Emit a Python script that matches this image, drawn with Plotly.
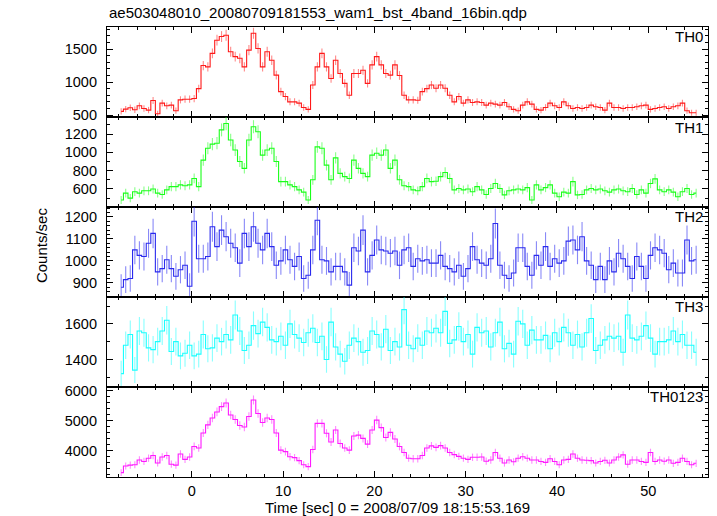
import numpy as np
import plotly.graph_objects as go
from plotly.subplots import make_subplots

TITLE = "ae503048010_20080709181553_wam1_bst_4band_16bin.qdp"
X_TITLE = "Time [sec] 0 = 2008/07/09 18:15:53.169"
Y_TITLE = "Counts/sec"
BANDS = ["TH0", "TH1", "TH2", "TH3", "TH0123"]
COLORS = ["#ff1a1a", "#1aff1a", "#2a2aee", "#1affff", "#ff1aff"]
ERR_COLORS = ["rgba(255,40,40,0.55)", "rgba(40,255,40,0.55)", "rgba(40,40,240,0.55)",
              "rgba(40,255,255,0.55)", "rgba(255,40,255,0.55)"]

T_FIRST = -7.75   # first bin centre [s]
T_STEP = 0.5      # spacing of read values [s]
EXPOSURE = 0.25   # bin exposure used for Poisson errors [s]

TH0 = [555, 590, 610, 580, 640, 600, 575, 720, 520, 680, 640, 650, 565, 730, 740, 740,
       750, 900, 1250, 1230, 1435, 1635, 1690, 1710, 1460, 1385, 1360, 1230, 1485, 1740, 1510, 1230,
       1460, 1330, 1105, 855, 780, 700, 700, 680, 615, 585, 955, 1230, 1435, 1230, 1055, 1330,
       1130, 980, 800, 1130, 1130, 1180, 980, 1260, 1385, 1260, 1130, 1105, 1260, 1100, 800, 730,
       730, 725, 855, 900, 955, 905, 955, 905, 800, 700, 780, 680, 730, 690, 700, 690,
       650, 680, 665, 650, 690, 625, 585, 565, 650, 700, 665, 585, 575, 615, 680, 640,
       615, 700, 640, 600, 615, 600, 615, 650, 625, 615, 575, 680, 615, 615, 600, 615,
       615, 625, 640, 650, 585, 600, 615, 625, 600, 625, 640, 680, 565, 535, 535]

TH1 = [480, 555, 500, 570, 555, 580, 580, 600, 555, 540, 590, 625, 625, 645, 635, 645,
       715, 625, 915, 1045, 1090, 1100, 1245, 1315, 1135, 1025, 900, 825, 1135, 1280, 1225, 970,
       1025, 1045, 900, 680, 680, 645, 625, 590, 565, 480, 700, 1060, 1045, 860, 700, 940,
       770, 735, 715, 915, 825, 770, 735, 970, 990, 970, 1025, 825, 915, 700, 635, 625,
       590, 580, 625, 715, 680, 685, 735, 780, 715, 590, 605, 590, 600, 570, 625, 590,
       540, 605, 660, 605, 535, 580, 590, 600, 590, 615, 480, 645, 590, 615, 645, 555,
       515, 565, 555, 680, 535, 540, 590, 605, 590, 600, 580, 565, 590, 600, 580, 570,
       605, 540, 590, 555, 660, 710, 590, 570, 590, 565, 515, 570, 605, 540, 555]

TH2 = [880, 915, 920, 1050, 1025, 1020, 1080, 1125, 950, 965, 1005, 965, 930, 960, 980, 885,
       1180, 1010, 1010, 1020, 1155, 1065, 1140, 1110, 1080, 1060, 990, 1125, 1065, 1155, 1080, 1050,
       1125, 1065, 980, 1000, 1050, 1005, 975, 1020, 920, 935, 1050, 1185, 1005, 1000, 950, 975,
       975, 950, 890, 1060, 1045, 1140, 950, 1025, 1095, 1050, 1045, 1035, 1045, 980, 1050, 1060,
       975, 1010, 1000, 1005, 990, 990, 1025, 975, 965, 950, 980, 930, 965, 1065, 1005, 990,
       980, 1010, 1170, 980, 935, 920, 945, 1060, 1060, 975, 935, 1025, 980, 1065, 975, 1010,
       990, 1000, 1090, 1095, 1050, 1110, 1000, 980, 915, 975, 915, 1000, 950, 1035, 1010, 975,
       920, 1020, 975, 920, 1025, 1060, 1050, 1035, 960, 990, 945, 945, 1095, 1000, 1005]

TH3 = [1320, 1480, 1540, 1340, 1560, 1550, 1465, 1455, 1500, 1560, 1620, 1445, 1500, 1420, 1435, 1480,
       1420, 1430, 1540, 1460, 1465, 1520, 1500, 1540, 1510, 1650, 1560, 1450, 1480, 1590, 1545, 1610,
       1580, 1510, 1500, 1530, 1480, 1600, 1540, 1520, 1495, 1550, 1575, 1495, 1530, 1400, 1610, 1470,
       1430, 1390, 1480, 1520, 1500, 1440, 1450, 1560, 1540, 1470, 1570, 1450, 1500, 1470, 1680, 1480,
       1460, 1520, 1480, 1560, 1550, 1575, 1550, 1670, 1490, 1510, 1585, 1500, 1540, 1430, 1580, 1550,
       1560, 1470, 1550, 1610, 1460, 1490, 1430, 1615, 1600, 1480, 1565, 1510, 1510, 1535, 1460, 1550,
       1500, 1580, 1550, 1480, 1540, 1470, 1550, 1630, 1450, 1480, 1510, 1530, 1520, 1530, 1440, 1650,
       1520, 1510, 1530, 1590, 1520, 1430, 1500, 1500, 1510, 1560, 1500, 1540, 1480, 1480, 1440]

TH0123 = [3280, 3500, 3530, 3540, 3700, 3650, 3760, 3850, 3600, 3800, 3850, 3560, 3530, 3900, 3720, 3800,
          4150, 4100, 4600, 4870, 5100, 5300, 5480, 5600, 5200, 5050, 4850, 4800, 5150, 5700, 5250, 4950,
          5100, 5050, 4600, 4030, 3980, 3810, 3780, 3680, 3540, 3480, 4050, 4920, 4920, 4590, 4300, 4700,
          4250, 4100, 4030, 4500, 4530, 4420, 4230, 4700, 5030, 4780, 4450, 4620, 4400, 4150, 3950, 3760,
          3740, 3740, 3850, 4100, 4170, 4120, 4180, 4100, 3950, 3880, 3820, 3760, 3720, 3790, 3790, 3800,
          3660, 3700, 3950, 3760, 3600, 3700, 3640, 3760, 3810, 3760, 3700, 3700, 3650, 3620, 3740, 3650,
          3540, 3700, 3720, 3900, 3760, 3700, 3690, 3680, 3600, 3650, 3690, 3600, 3700, 3800, 3870, 3560,
          3700, 3700, 3650, 3620, 3950, 3650, 3700, 3660, 3700, 3590, 3620, 3760, 3650, 3540, 3590]

SERIES = [TH0, TH1, TH2, TH3, TH0123]
Y_RANGES = [[470, 1835], [403, 1386], [836, 1245], [1245, 1751], [3133, 6133]]
Y_DTICK = [500, 200, 100, 200, 1000]
Y_MINOR = [100, 100, 20, 100, 200]
LABEL_Y = [0.978, 0.7756, 0.5778, 0.38, 0.179]

fig = make_subplots(rows=5, cols=1, shared_xaxes=True, vertical_spacing=0)

for i, vals in enumerate(SERIES):
    v = np.array(vals, dtype=float)
    t = T_FIRST + T_STEP * np.arange(len(v))
    err = np.sqrt(v * EXPOSURE) / EXPOSURE
    fig.add_trace(go.Scatter(
        x=t, y=v, mode="lines", line=dict(color=COLORS[i], width=1.1, shape="hvh"),
        error_y=dict(type="data", array=err, visible=True, thickness=1.1, width=0,
                     color=ERR_COLORS[i]),
        showlegend=False, hoverinfo="skip"), row=i + 1, col=1)

font = dict(family="Liberation Sans, Arial, sans-serif", size=14.5, color="black")

for i in range(5):
    lo = 0.2 * (4 - i)
    yname = "yaxis" if i == 0 else f"yaxis{i+1}"
    xname = "xaxis" if i == 0 else f"xaxis{i+1}"
    fig.layout[yname].update(
        domain=[lo, lo + 0.2], range=Y_RANGES[i], showline=True, linecolor="black",
        linewidth=1.2, mirror="ticks", ticks="inside", ticklen=6, tickcolor="black",
        tickmode="linear", tick0=0, dtick=Y_DTICK[i], showgrid=False, zeroline=False,
        tickfont=font, ticklabelstandoff=6,
        minor=dict(ticks="inside", ticklen=3, tickcolor="black", dtick=Y_MINOR[i],
                   tick0=0, showgrid=False))
    fig.layout[xname].update(
        range=[-9.3, 56.55], showline=True, linecolor="black", linewidth=1.2,
        mirror="ticks", ticks="inside", ticklen=6, tickcolor="black",
        tickmode="linear", tick0=0, dtick=10, showgrid=False, zeroline=False,
        tickfont=font, showticklabels=(i == 4),
        minor=dict(ticks="inside", ticklen=3, tickcolor="black", dtick=2, tick0=0,
                   showgrid=False))

ann = []
for i, name in enumerate(BANDS):
    ann.append(dict(text=name, x=1, y=LABEL_Y[i], xref="paper", yref="paper",
                    xanchor="right", yanchor="middle", xshift=-3, showarrow=False,
                    font=dict(family="Liberation Sans, Arial, sans-serif", size=15, color="black")))
ann.append(dict(text=TITLE, x=0, y=1.0333, xref="paper", yref="paper", xanchor="left",
                yanchor="middle", showarrow=False,
                font=dict(family="Liberation Sans, Arial, sans-serif", size=15, color="black")))
ann.append(dict(text=X_TITLE, x=0.484, y=-0.0667, xref="paper", yref="paper",
                xanchor="center", yanchor="middle", showarrow=False,
                font=dict(family="Liberation Sans, Arial, sans-serif", size=15, color="black")))
ann.append(dict(text=Y_TITLE, x=-0.108, y=0.5156, xref="paper", yref="paper",
                xanchor="center", yanchor="middle", textangle=-90, showarrow=False,
                font=dict(family="Liberation Sans, Arial, sans-serif", size=15, color="black")))

fig.update_layout(
    width=717, height=516, margin=dict(l=107, r=9, t=27, b=39),
    paper_bgcolor="white", plot_bgcolor="white", annotations=ann, showlegend=False)

fig.write_html("out.html", config={"displayModeBar": False},
               post_script="document.body.style.margin='0';document.body.style.overflow='hidden';")
